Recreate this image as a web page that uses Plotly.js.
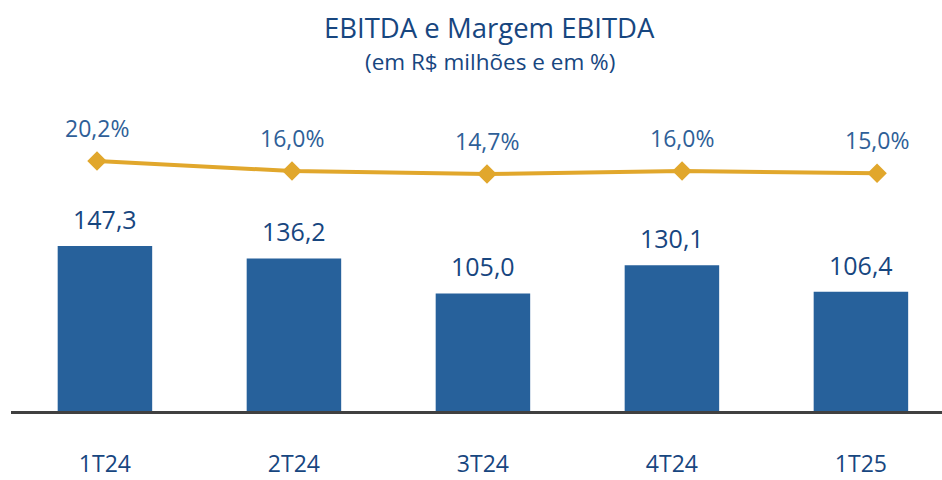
<!DOCTYPE html>
<html>
<head>
<meta charset="utf-8">
<script src="https://cdn.plot.ly/plotly-3.0.1.min.js"></script>
<style>html,body{margin:0;padding:0;background:#fff;}#chart{width:942px;height:480px;}</style>
</head>
<body>
<div id="chart"></div>
<script>
const categories = ['1T24', '2T24', '3T24', '4T24', '1T25'];
const ebitda = [147.3, 136.2, 105.0, 130.1, 106.4];
const ebitdaLabels = ['147,3', '136,2', '105,0', '130,1', '106,4'];
const margin = [20.2, 16.0, 14.7, 16.0, 15.0];
const marginLabels = ['20,2%', '16,0%', '14,7%', '16,0%', '15,0%'];
const titleText = 'EBITDA e Margem EBITDA';
const subtitleText = '(em R$ milhões e em %)';

const FONT = 'Open Sans, Noto Sans, sans-serif';
const barColor = '#27619B';
const lineColor = '#E1A72C';
const textDark = '#17467F';
const textLight = '#2F5F98';

const traces = [
  {
    type: 'bar', x: categories, y: ebitda, width: 0.5,
    marker: {color: barColor, line: {width: 0}},
    hoverinfo: 'skip'
  },
  {
    type: 'scatter', mode: 'lines+markers', x: categories, y: margin, xaxis: 'x2', yaxis: 'y2',
    line: {color: lineColor, width: 4},
    marker: {symbol: 'diamond', size: 15, color: lineColor},
    hoverinfo: 'skip'
  }
];

const annotations = [];
categories.forEach((c, i) => {
  annotations.push({
    x: c, y: ebitda[i], xref: 'x', yref: 'y', text: ebitdaLabels[i],
    showarrow: false, yanchor: 'bottom', yshift: 8,
    font: {family: FONT, size: 25, color: textDark, weight: 500}
  });
  annotations.push({
    x: c, y: margin[i], xref: 'x2', yref: 'y2', text: marginLabels[i],
    showarrow: false, yanchor: 'bottom', yshift: 15,
    font: {family: FONT, size: 23, color: textLight}
  });
});
annotations.push({
  x: 0.5145, y: 1.196, xref: 'paper', yref: 'paper', xanchor: 'center', yanchor: 'middle',
  text: titleText, showarrow: false,
  font: {family: FONT, size: 27.5, color: textDark}
});
annotations.push({
  x: 0.5145, y: 1.09, xref: 'paper', yref: 'paper', xanchor: 'center', yanchor: 'middle',
  text: subtitleText, showarrow: false,
  font: {family: FONT, size: 22.5, color: textDark}
});

const layout = {
  width: 942, height: 480,
  margin: {l: 11, r: 0, t: 90, b: 69},
  paper_bgcolor: '#ffffff', plot_bgcolor: '#ffffff',
  showlegend: false,
  xaxis: {
    type: 'category', range: [-0.497, 4.429],
    showline: true, linecolor: '#404040', linewidth: 3,
    showgrid: false, zeroline: false, ticks: '',
    ticklabelstandoff: 30,
    tickfont: {family: FONT, size: 23, color: textDark},
    fixedrange: true
  },
  xaxis2: {
    type: 'category', range: [-0.441, 4.333], overlaying: 'x', visible: false,
    showgrid: false, zeroline: false, fixedrange: true
  },
  yaxis: {
    range: [0, 286.6], visible: false, showgrid: false, zeroline: false, fixedrange: true
  },
  yaxis2: {
    range: [-85.7, 50.3], overlaying: 'y', visible: false, showgrid: false, zeroline: false, fixedrange: true
  },
  annotations: annotations
};

Plotly.newPlot('chart', traces, layout, {staticPlot: true, displayModeBar: false});
</script>
</body>
</html>
